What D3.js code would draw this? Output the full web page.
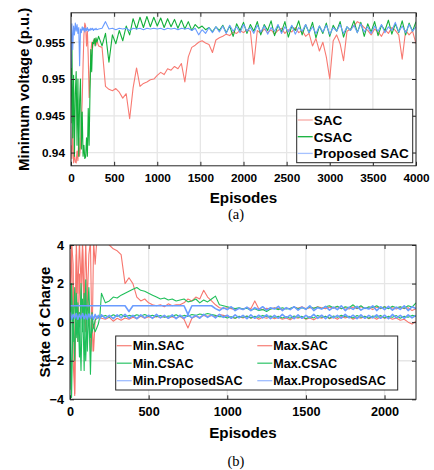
<!DOCTYPE html>
<html>
<head>
<meta charset="utf-8">
<script src="https://cdn.jsdelivr.net/npm/d3@7"></script>
<style>
body { margin: 0; background: #fff; }
text { font-family: "Liberation Sans", Arial, sans-serif; font-weight: bold; }
</style>
</head>
<body>
<svg id="fig" width="434" height="470"></svg>
<script>
// ---- (a) minimum voltage ----
var voltEp = d3.range(0, 301, 10).concat(d3.range(320, 4001, 40));

var voltSAC = [
 0.9410,0.9392,0.9435,0.9386,0.9398,0.9387,0.9386,0.9402,0.9389,0.9420,
 0.9395,0.9408,0.9440,0.9470,0.9520,0.9560,0.9576,0.9572,0.9545,0.9565,
 0.9530,0.9475,0.9500,0.9535,0.9550,0.9542,0.9553,0.9548,0.9555,0.9546,
 0.9552,
 0.9545,0.9543,0.9490,0.9486,0.9484,0.9487,0.9482,0.9474,0.9480,0.9446,
 0.9488,0.9515,0.9490,0.9494,0.9496,0.9499,0.9500,0.9505,0.9509,0.9506,
 0.9514,0.9512,0.9517,0.9514,0.9521,0.9496,0.9530,0.9543,0.9546,0.9550,
 0.9552,0.9549,0.9547,0.9536,0.9553,0.9556,0.9558,0.9561,0.9559,0.9564,
 0.9562,0.9566,0.9563,0.9567,0.9565,0.9520,0.9566,0.9562,0.9568,0.9563,
 0.9567,0.9561,0.9566,0.9569,0.9562,0.9567,0.9564,0.9570,0.9563,0.9566,
 0.9558,0.9562,0.9545,0.9555,0.9538,0.9550,0.9530,0.9500,0.9552,0.9560,
 0.9548,0.9525,0.9565,0.9568,0.9572,0.9578,0.9575,0.9570,0.9566,0.9560,
 0.9568,0.9564,0.9558,0.9567,0.9562,0.9570,0.9566,0.9560,0.9527,0.9566,
 0.9560,0.9565,0.9548
];
var voltCSAC = [
 0.9440,0.9560,0.9420,0.9505,0.9395,0.9480,0.9510,0.9410,0.9500,0.9395,
 0.9470,0.9500,0.9405,0.9455,0.9395,0.9410,0.9392,0.9394,0.9420,0.9395,
 0.9460,0.9410,0.9480,0.9540,0.9510,0.9550,0.9548,0.9555,0.9545,0.9556,
 0.9550,
 0.9558,0.9545,0.9562,0.9523,0.9560,0.9548,0.9566,0.9552,0.9572,0.9560,
 0.9582,0.9568,0.9584,0.9570,0.9585,0.9571,0.9584,0.9572,0.9583,0.9570,
 0.9582,0.9571,0.9581,0.9569,0.9580,0.9568,0.9578,0.9566,0.9574,0.9569,
 0.9572,0.9567,0.9570,0.9564,0.9571,0.9566,0.9573,0.9563,0.9572,0.9558,
 0.9575,0.9566,0.9577,0.9562,0.9574,0.9565,0.9578,0.9560,0.9574,0.9566,
 0.9579,0.9559,0.9573,0.9564,0.9578,0.9557,0.9572,0.9566,0.9579,0.9560,
 0.9574,0.9563,0.9577,0.9556,0.9572,0.9562,0.9576,0.9558,0.9573,0.9565,
 0.9578,0.9557,0.9571,0.9566,0.9579,0.9563,0.9577,0.9558,0.9575,0.9564,
 0.9578,0.9559,0.9573,0.9566,0.9580,0.9561,0.9575,0.9563,0.9579,0.9560,
 0.9576,0.9565,0.9578
];
var voltProp = [
 0.9515,0.9575,0.9540,0.9572,0.9560,0.9576,0.9565,0.9574,0.9562,0.9570,
 0.9518,0.9568,0.9563,0.9571,0.9566,0.9570,0.9564,0.9569,0.9566,0.9570,
 0.9565,0.9568,0.9566,0.9569,0.9567,0.9569,0.9566,0.9568,0.9567,0.9569,
 0.9567,
 0.9568,0.9569,0.9578,0.9568,0.9569,0.9567,0.9569,0.9568,0.9569,0.9566,
 0.9569,0.9568,0.9569,0.9567,0.9569,0.9568,0.9569,0.9568,0.9569,0.9567,
 0.9569,0.9568,0.9569,0.9567,0.9569,0.9568,0.9569,0.9566,0.9569,0.9560,
 0.9567,0.9562,0.9570,0.9563,0.9571,0.9564,0.9572,0.9562,0.9573,0.9565,
 0.9571,0.9563,0.9574,0.9565,0.9570,0.9562,0.9573,0.9564,0.9572,0.9561,
 0.9570,0.9565,0.9574,0.9562,0.9571,0.9564,0.9573,0.9561,0.9570,0.9565,
 0.9574,0.9563,0.9571,0.9562,0.9572,0.9564,0.9573,0.9561,0.9570,0.9565,
 0.9574,0.9562,0.9571,0.9566,0.9573,0.9563,0.9575,0.9564,0.9571,0.9562,
 0.9572,0.9565,0.9574,0.9563,0.9571,0.9566,0.9577,0.9564,0.9572,0.9563,
 0.9574,0.9565,0.9571
];
var voltNames = ["SAC", "CSAC", "Proposed SAC"];
var voltTicksY = [0.94, 0.945, 0.95, 0.955];
var voltTicksX = [0, 500, 1000, 1500, 2000, 2500, 3000, 3500, 4000];

// ---- (b) state of charge ----
var socEp = d3.range(0, 201, 10).concat(d3.range(225, 2201, 25));

var socMinSAC = [
 0.5,4.2,-2.0,-3.8,3.5,-1.0,2.5,0.2,3.8,0.5,-0.5,2.0,0.3,-1.5,0.2,-1.5,0.1,0.3,0.2,0.25,0.2,
 0.15,0.25,0.05,0.2,0.1,0.22,0.15,0.25,0.18,0.3,0.2,0.28,0.22,0.3,0.24,0.3,0.22,0.28,0.2,0.3,
 0.15,-0.3,0.2,0.3,0.25,0.35,0.3,0.35,0.28,0.4,0.35,0.3,0.25,0.2,0.28,0.22,0.3,0.2,0.28,0.15,
 0.25,0.2,0.28,0.18,0.25,0.15,0.22,0.12,0.25,0.2,0.28,0.15,0.22,0.12,0.25,0.2,0.3,0.18,0.25,0.15,
 0.3,0.22,0.28,0.15,0.25,0.2,0.3,0.18,0.26,0.15,0.28,0.2,0.25,0.15,0.22,0.1,0.15,0.0,-0.1,0.05
];
var socMaxSAC = [
 1.0,4.2,3.0,-3.7,4.2,1.5,4.2,2.0,4.2,0.8,4.2,1.0,3.5,4.2,-1.5,4.2,3.0,4.2,4.2,4.2,4.2,
 4.2,4.0,3.8,3.7,3.5,2.0,2.3,2.0,1.3,1.1,1.2,1.0,0.9,0.85,0.9,0.8,0.95,0.85,0.9,0.9,
 1.0,1.2,1.1,1.3,1.2,1.65,1.3,1.1,0.9,0.75,0.7,0.75,0.7,0.65,0.72,0.68,0.75,0.7,1.1,0.7,
 0.65,0.72,0.68,0.75,0.7,0.65,0.72,0.7,0.78,0.72,0.8,0.7,0.75,0.72,0.8,0.75,0.7,0.78,0.72,0.8,
 0.7,0.75,0.68,0.78,0.7,0.8,0.72,0.75,0.65,0.78,0.7,0.8,0.72,0.75,0.68,0.78,0.7,0.75,0.6,0.7
];
var socMinCSAC = [
 2.0,-3.9,0.8,-2.0,1.5,-1.0,0.5,-2.5,1.2,-2.5,2.2,-1.5,0.8,-2.7,0.5,-0.3,0.1,0.2,0.25,0.3,0.28,
 0.35,0.25,0.38,0.3,0.4,0.28,0.35,0.3,0.38,0.32,0.4,0.3,0.36,0.28,0.34,0.25,0.32,0.3,0.38,0.28,
 0.35,0.3,0.4,0.35,0.42,0.38,0.45,0.4,0.35,0.28,0.3,0.22,0.28,0.2,0.3,0.25,0.32,0.22,0.3,0.25,
 0.35,0.28,0.32,0.25,0.3,0.22,0.28,0.2,0.32,0.25,0.3,0.18,0.28,0.22,0.35,0.25,0.3,0.2,0.32,0.25,
 0.36,0.28,0.3,0.22,0.34,0.25,0.3,0.2,0.32,0.26,0.35,0.22,0.3,0.25,0.34,0.2,0.3,0.26,0.35,0.3
];
var socMaxCSAC = [
 -3.5,2.0,-1.0,1.8,-0.8,1.0,-1.8,2.0,-0.5,1.5,-2.0,0.5,1.8,-0.8,-0.5,-0.2,-0.5,-0.3,-0.1,0.3,1.5,
 1.0,1.1,1.3,1.25,1.4,1.5,1.6,1.7,1.8,1.65,1.6,1.5,1.4,1.3,1.2,1.25,1.15,1.2,1.1,1.15,
 1.2,1.05,1.1,1.2,1.0,1.15,1.05,1.2,1.35,0.9,0.85,0.8,0.75,0.7,0.75,0.68,0.72,0.62,0.7,0.6,
 0.65,0.55,0.68,0.72,0.65,0.75,0.68,0.72,0.78,0.7,0.75,0.68,0.8,0.72,0.78,0.7,0.8,0.85,0.75,0.82,
 0.7,0.8,0.75,0.9,0.72,0.85,0.7,0.8,0.75,0.85,0.72,0.8,0.7,0.82,0.75,0.8,0.72,0.85,0.78,1.0
];
var socMinProp = [
 0.5,0.15,0.4,0.2,0.45,0.15,0.4,0.2,0.45,0.18,0.4,0.15,0.42,0.2,0.38,0.15,0.4,0.2,0.35,0.18,0.38,
 0.2,0.35,0.18,0.38,0.22,0.4,0.2,0.35,0.18,0.38,0.22,0.36,0.2,0.4,0.22,0.35,0.2,0.38,0.18,0.36,
 0.2,0.38,0.22,0.35,0.2,0.4,0.25,0.38,0.22,0.4,0.25,0.36,0.2,0.38,0.22,0.35,0.18,0.38,0.2,0.36,
 0.22,0.38,0.18,0.35,0.2,0.4,0.22,0.36,0.18,0.38,0.2,0.35,0.22,0.4,0.2,0.36,0.18,0.38,0.22,0.35,
 0.2,0.4,0.22,0.36,0.18,0.38,0.2,0.35,0.22,0.38,0.2,0.36,0.18,0.4,0.22,0.35,0.2,0.38,0.22,0.35
];
var socMaxProp = [
 0.85,0.85,0.85,0.85,0.85,0.85,0.85,0.85,0.85,0.85,0.85,0.85,0.85,0.85,0.85,0.85,0.85,0.85,0.85,0.85,0.85,
 0.85,0.85,0.85,0.85,0.85,0.85,0.55,0.85,0.85,0.85,0.85,0.85,0.85,0.85,0.85,0.85,0.85,0.85,0.85,0.85,
 0.85,0.4,0.85,0.85,0.85,0.85,0.85,0.85,0.7,0.6,0.75,0.65,0.8,0.6,0.72,0.65,0.78,0.6,0.75,0.65,
 0.8,0.62,0.75,0.68,0.82,0.6,0.75,0.65,0.8,0.62,0.78,0.66,0.85,0.6,0.75,0.68,0.82,0.62,0.78,0.65,
 0.85,0.6,0.78,0.66,0.82,0.62,0.75,0.68,0.85,0.6,0.8,0.65,0.82,0.62,0.78,0.66,0.85,0.6,0.8,0.7
];
var socNames = ["Min.SAC", "Max.SAC", "Min.CSAC", "Max.CSAC", "Min.ProposedSAC", "Max.ProposedSAC"];
var socTicksY = [-4, -2, 0, 2, 4];
var socTicksX = [0, 500, 1000, 1500, 2000];

var svg = d3.select("#fig");

function drawPanel(o) {
  var x = d3.scaleLinear().domain(o.xDom).range([o.left, o.right]);
  var y = d3.scaleLinear().domain(o.yDom).range([o.bottom, o.top]);
  var g = svg.append("g");

  // grid
  g.selectAll(".gx").data(o.xTicks).enter().append("line")
    .attr("x1", d => x(d)).attr("x2", d => x(d))
    .attr("y1", o.top).attr("y2", o.bottom)
    .attr("stroke", "#e6e6e6").attr("stroke-width", 1.3);
  g.selectAll(".gy").data(o.yTicks).enter().append("line")
    .attr("x1", o.left).attr("x2", o.right)
    .attr("y1", d => y(d)).attr("y2", d => y(d))
    .attr("stroke", "#e6e6e6").attr("stroke-width", 1.3);

  g.append("clipPath").attr("id", o.id)
    .append("rect").attr("x", o.left).attr("y", o.top)
    .attr("width", o.right - o.left).attr("height", o.bottom - o.top);

  var line = d3.line().x((d, i) => x(o.xs[i])).y(d => y(d));
  o.series.forEach(function (s) {
    g.append("path").datum(s.values)
      .attr("clip-path", "url(#" + o.id + ")")
      .attr("fill", "none").attr("stroke", s.color)
      .attr("stroke-width", s.width || 1.1)
      .attr("stroke-linejoin", "round")
      .attr("d", line);
  });

  // axes, inward ticks, box
  var ax = g.append("g").attr("transform", "translate(0," + o.bottom + ")")
    .call(d3.axisBottom(x).tickValues(o.xTicks).tickSizeInner(-4).tickSizeOuter(0).tickPadding(8).tickFormat(d3.format("d")));
  var axT = g.append("g").attr("transform", "translate(0," + o.top + ")")
    .call(d3.axisTop(x).tickValues(o.xTicks).tickSizeInner(-4).tickSizeOuter(0).tickFormat(""));
  var ay = g.append("g").attr("transform", "translate(" + o.left + ",0)")
    .call(d3.axisLeft(y).tickValues(o.yTicks).tickSizeInner(-4).tickSizeOuter(0).tickPadding(6).tickFormat(o.yFmt));
  var ayR = g.append("g").attr("transform", "translate(" + o.right + ",0)")
    .call(d3.axisRight(y).tickValues(o.yTicks).tickSizeInner(-4).tickSizeOuter(0).tickFormat(""));
  [ax, axT, ay, ayR].forEach(function (a) {
    a.select(".domain").remove();
    a.selectAll("line").attr("stroke", "#262626");
    a.selectAll("text").attr("fill", "#000").style("font-size", o.tickSize)
      .style("font-family", "'Liberation Sans', Arial, sans-serif").style("font-weight", "bold");
  });
  g.append("rect").attr("x", o.left).attr("y", o.top)
    .attr("width", o.right - o.left).attr("height", o.bottom - o.top)
    .attr("fill", "none").attr("stroke", "#262626").attr("stroke-width", 1);

  g.append("text").attr("x", (o.left + o.right) / 2).attr("y", o.xLabelY)
    .attr("text-anchor", "middle").style("font-size", "15.2px").text("Episodes");
  g.append("text").attr("transform", "translate(" + o.yLabelX + "," + ((o.top + o.bottom) / 2) + ") rotate(-90)")
    .attr("text-anchor", "middle").attr("dy", "0.35em").style("font-size", "15px").text(o.yLabel);

  // legend
  var L = o.legend;
  g.append("rect").attr("x", L.x).attr("y", L.y).attr("width", L.w).attr("height", L.h)
    .attr("fill", "#fff").attr("stroke", "#262626").attr("stroke-width", 1);
  o.series.forEach(function (s, i) {
    var col = i % L.cols, row = Math.floor(i / L.cols);
    var lx = L.x + 1 + col * L.colW, ly = L.y + L.rowY0 + row * L.rowH;
    g.append("line").attr("x1", lx).attr("x2", lx + L.lineW).attr("y1", ly).attr("y2", ly)
      .attr("stroke", s.legendColor).attr("stroke-width", 1.3);
    g.append("text").attr("x", lx + L.lineW + 1).attr("y", ly).attr("dy", "0.36em")
      .style("font-size", L.font).text(s.name);
  });

  svg.append("text").attr("x", 236).attr("y", o.capY).attr("text-anchor", "middle")
    .style("font-family", "'Liberation Serif', 'Times New Roman', serif").style("font-weight", "normal")
    .style("font-size", "14.5px").text(o.caption);
}

drawPanel({
  id: "clipA", xs: voltEp, xDom: [0, 4000], yDom: [0.9382, 0.959],
  left: 71, right: 416, top: 12.8, bottom: 165.8,
  xTicks: voltTicksX, yTicks: voltTicksY, yFmt: d3.format(""), tickSize: "11.8px",
  xLabelY: 203, yLabelX: 24, yLabel: "Minimum voltage (p.u.)",
  series: [
    { name: voltNames[0], values: voltSAC, color: "#f87a72", legendColor: "#f7aaa6" },
    { name: voltNames[1], values: voltCSAC, color: "#12b03a", legendColor: "#12b03a" },
    { name: voltNames[2], values: voltProp, color: "#6a9cff", legendColor: "#a6c2ff" }
  ],
  legend: { x: 296.7, y: 109.3, w: 116, h: 53.4, cols: 1, colW: 0, rowY0: 10.7, rowH: 16.7, lineW: 15, font: "13.6px" },
  caption: "(a)", capY: 219
});

drawPanel({
  id: "clipB", xs: socEp, xDom: [0, 2200], yDom: [-4, 4],
  left: 70, right: 416, top: 245, bottom: 399.3,
  xTicks: socTicksX, yTicks: socTicksY, yFmt: d3.format("d"), tickSize: "12.7px",
  xLabelY: 437.5, yLabelX: 45, yLabel: "State of Charge",
  series: [
    { name: socNames[0], values: socMinSAC, color: "#f7766e", legendColor: "#f7867f" },
    { name: socNames[1], values: socMaxSAC, color: "#f7766e", legendColor: "#f7867f" },
    { name: socNames[2], values: socMinCSAC, color: "#1fbf5a", legendColor: "#3cc872" },
    { name: socNames[3], values: socMaxCSAC, color: "#1fbf5a", legendColor: "#3cc872" },
    { name: socNames[4], values: socMinProp, color: "#6a9cff", legendColor: "#9dbcff", width: 1.6 },
    { name: socNames[5], values: socMaxProp, color: "#6a9cff", legendColor: "#9dbcff", width: 1.6 }
  ],
  legend: { x: 115.7, y: 336, w: 282, h: 54, cols: 2, colW: 140.6, rowY0: 9.7, rowH: 17.5, lineW: 15, font: "12.6px" },
  caption: "(b)", capY: 466
});
</script>
</body>
</html>
